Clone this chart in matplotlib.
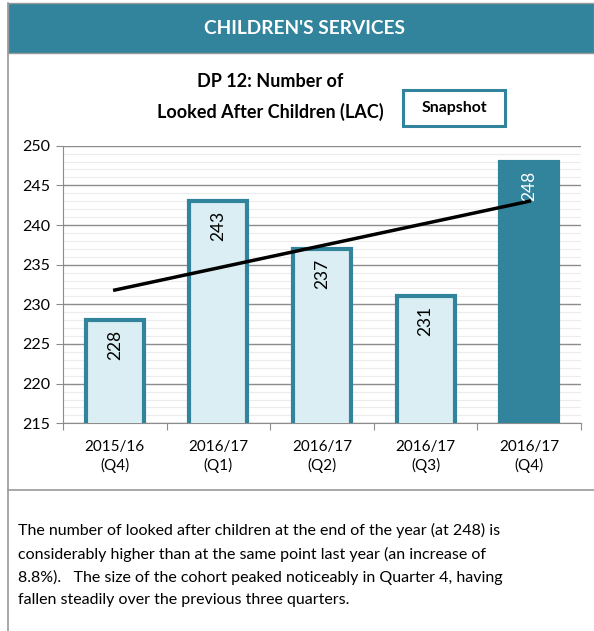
import numpy as np
import matplotlib.pyplot as plt
from matplotlib.patches import Rectangle
from matplotlib.lines import Line2D

plt.rcParams['font.family'] = ['Lato', 'DejaVu Sans']

# data
quarters = ["2015/16\n(Q4)", "2016/17\n(Q1)", "2016/17\n(Q2)", "2016/17\n(Q3)", "2016/17\n(Q4)"]
lac = [228, 243, 237, 231, 248]
header = "CHILDREN'S SERVICES"
title = "DP 12: Number of\nLooked After Children (LAC)"
note = ("The number of looked after children at the end of the year (at 248) is\n"
        "considerably higher than at the same point last year (an increase of\n"
        "8.8%).   The size of the cohort peaked noticeably in Quarter 4, having\n"
        "fallen steadily over the previous three quarters.")

teal = "#31849B"
light = "#DBEEF3"
W, H = 594, 631

fig = plt.figure(figsize=(W / 100, H / 100), dpi=100)

def fx(px):
    return px / W

def fy(py):
    return 1 - py / H

# frame and header band
fig.add_artist(Rectangle((fx(8), fy(53)), fx(586), 50 / H, transform=fig.transFigure,
                         facecolor=teal, edgecolor="#999999", lw=1))
fig.add_artist(Line2D([fx(8), fx(8)], [fy(3), 0], transform=fig.transFigure, color="#999999", lw=1.2))
fig.add_artist(Line2D([fx(8), 1], [fy(490), fy(490)], transform=fig.transFigure, color="#999999", lw=1.2))
fig.text(fx(304), fy(28), header, color="white", fontsize=13.8, fontweight="bold", ha="center", va="center")

fig.text(fx(270), fy(97), title, fontsize=13, fontweight="bold", ha="center", va="center", linespacing=1.85)
fig.add_artist(Rectangle((fx(403), fy(126)), 102 / W, 36 / H, transform=fig.transFigure,
                         facecolor="white", edgecolor=teal, lw=2.2))
fig.text(fx(454), fy(108), "Snapshot", fontsize=11.4, fontweight="bold", ha="center", va="center")

fig.text(fx(18), fy(565), note, fontsize=11.5, ha="left", va="center", linespacing=1.7)

# chart
ax = fig.add_axes([fx(63), fy(423.3), (581 - 63) / W, (423.3 - 145.7) / H])
x = np.arange(len(lac))
fills = [light] * (len(lac) - 1) + [teal]
ax.bar(x, lac, width=0.56, bottom=0, color=fills, edgecolor=teal, lw=3, zorder=3)
ax.set_ylim(215, 250)
ax.set_xlim(-0.5, len(lac) - 0.5)

for i, v in enumerate(lac):
    c = "white" if i == len(lac) - 1 else "black"
    ax.text(i, v - 1.2, str(v), rotation=90, ha="center", va="top", fontsize=12.5, color=c, zorder=5)

k, b = np.polyfit(x, lac, 1)
ax.plot(x, k * x + b, color="black", lw=2.5, zorder=4)

ax.set_yticks(np.arange(215, 251, 5))
ax.set_yticks(np.arange(215, 251, 1), minor=True)
ax.grid(axis="y", which="major", color="#8c8c8c", lw=1, zorder=0)
ax.grid(axis="y", which="minor", color="#ececec", lw=0.8, zorder=0)
ax.tick_params(axis="y", which="minor", length=0)
ax.tick_params(axis="y", which="major", length=5, color="#8c8c8c", labelsize=11.5, pad=4)

ax.set_xticks(np.arange(-0.5, len(lac), 1))
ax.set_xticklabels([])
ax.set_xticks(x, quarters, minor=True)
ax.tick_params(axis="x", which="major", length=5, color="#8c8c8c")
ax.tick_params(axis="x", which="minor", length=0, labelsize=11, pad=12)
for t in ax.get_xticklabels(minor=True):
    t.set_linespacing(1.35)

for s in ["top", "right"]:
    ax.spines[s].set_visible(False)
for s in ["left", "bottom"]:
    ax.spines[s].set_color("#8c8c8c")

fig.savefig("out.png", dpi=100)
